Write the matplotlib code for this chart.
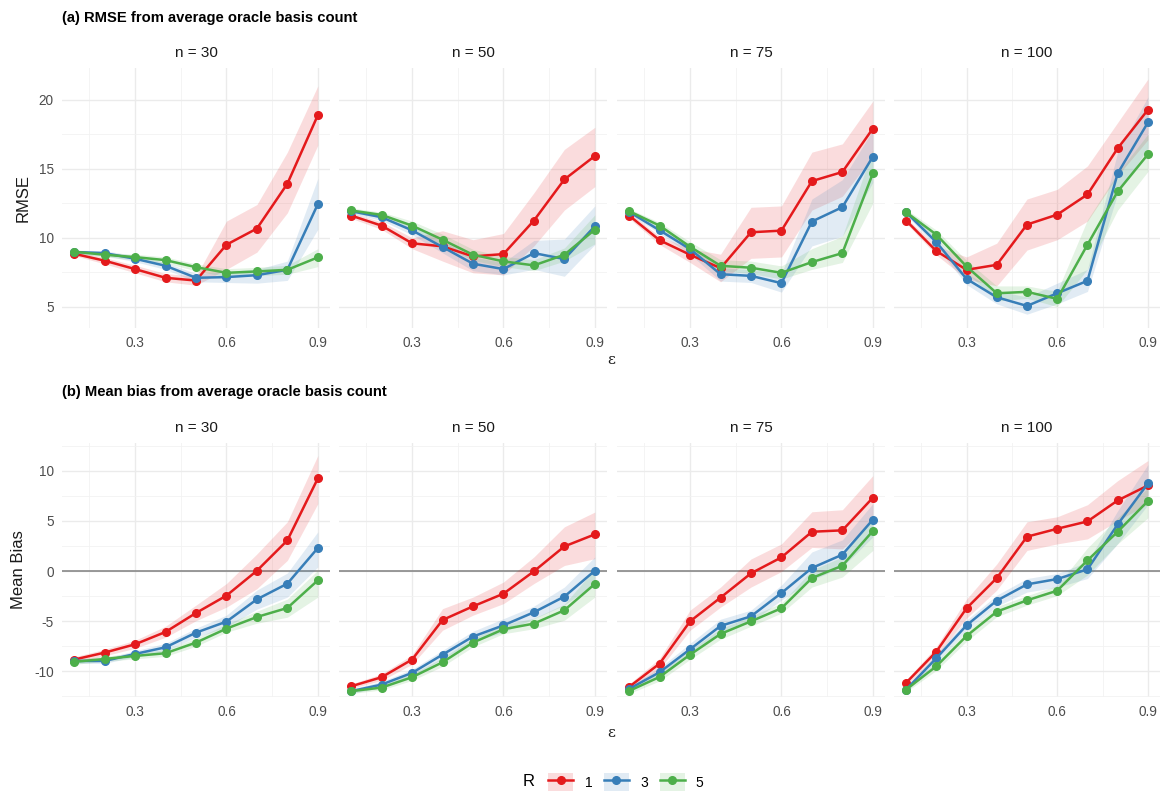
import numpy as np
import matplotlib
matplotlib.use('Agg')
import matplotlib.pyplot as plt
from matplotlib.lines import Line2D
from matplotlib.patches import Patch
from matplotlib.offsetbox import HPacker

plt.rcParams['font.family'] = ['Liberation Sans', 'DejaVu Sans']
plt.rcParams['axes.unicode_minus'] = False

eps = [0.1, 0.2, 0.3, 0.4, 0.5, 0.6, 0.7, 0.8, 0.9]
n_values = [30, 50, 75, 100]
r_values = [1, 3, 5]
colors = {1: '#E41A1C', 3: '#377EB8', 5: '#4DAF4A'}

# ---- RMSE (mean, lower, upper) ----
rmse_30_r1 = [8.83, 8.33, 7.72, 7.09, 6.89, 9.49, 10.66, 13.91, 18.88]
rmse_30_r1_lo = [8.7, 8.1, 7.45, 6.8, 6.55, 7.7, 8.95, 11.8, 16.7]
rmse_30_r1_hi = [9.0, 8.55, 8.0, 7.4, 7.2, 11.2, 12.4, 16.2, 21.0]
rmse_30_r3 = [8.96, 8.88, 8.47, 7.96, 7.09, 7.14, 7.28, 7.67, 12.43]
rmse_30_r3_lo = [8.8, 8.7, 8.25, 7.7, 6.8, 6.75, 6.7, 6.9, 10.6]
rmse_30_r3_hi = [9.1, 9.05, 8.7, 8.2, 7.4, 7.55, 7.7, 8.3, 14.3]
rmse_30_r5 = [8.98, 8.76, 8.59, 8.37, 7.86, 7.45, 7.55, 7.67, 8.57]
rmse_30_r5_lo = [8.85, 8.6, 8.4, 8.15, 7.6, 7.15, 7.25, 7.35, 7.9]
rmse_30_r5_hi = [9.1, 8.9, 8.8, 8.6, 8.1, 7.75, 7.85, 8.0, 9.2]

rmse_50_r1 = [11.6, 10.87, 9.59, 9.37, 8.64, 8.81, 11.24, 14.22, 15.92]
rmse_50_r1_lo = [11.4, 10.6, 9.2, 8.3, 7.45, 7.3, 9.4, 12.0, 13.7]
rmse_50_r1_hi = [11.8, 11.15, 10.0, 10.5, 9.85, 10.3, 13.25, 16.4, 18.0]
rmse_50_r3 = [11.92, 11.48, 10.53, 9.32, 8.11, 7.72, 8.88, 8.45, 10.83]
rmse_50_r3_lo = [11.75, 11.25, 10.2, 8.9, 7.6, 7.3, 7.7, 7.2, 9.5]
rmse_50_r3_hi = [12.1, 11.7, 10.85, 9.75, 8.6, 8.2, 9.8, 9.9, 12.3]
rmse_50_r5 = [11.97, 11.65, 10.87, 9.85, 8.76, 8.28, 7.99, 8.76, 10.58]
rmse_50_r5_lo = [11.8, 11.45, 10.55, 9.45, 8.35, 7.9, 7.6, 8.3, 9.55]
rmse_50_r5_hi = [12.15, 11.85, 11.2, 10.25, 9.15, 8.65, 8.4, 9.25, 11.65]

rmse_75_r1 = [11.6, 9.81, 8.76, 7.79, 10.39, 10.51, 14.1, 14.76, 17.91]
rmse_75_r1_lo = [11.4, 9.5, 8.2, 6.8, 8.5, 8.6, 12.0, 13.0, 15.9]
rmse_75_r1_hi = [11.8, 10.1, 9.2, 8.8, 12.2, 12.3, 16.2, 16.8, 19.9]
rmse_75_r3 = [11.87, 10.53, 9.17, 7.35, 7.23, 6.7, 11.17, 12.21, 15.87]
rmse_75_r3_lo = [11.7, 10.3, 8.8, 6.85, 6.75, 6.05, 9.4, 10.1, 14.0]
rmse_75_r3_hi = [12.05, 10.75, 9.5, 7.8, 7.7, 7.4, 12.8, 14.2, 17.8]
rmse_75_r5 = [11.92, 10.87, 9.34, 7.96, 7.82, 7.45, 8.23, 8.88, 14.66]
rmse_75_r5_lo = [11.75, 10.6, 9.0, 7.6, 7.4, 7.0, 7.7, 8.2, 12.5]
rmse_75_r5_hi = [12.1, 11.1, 9.7, 8.4, 8.3, 7.95, 9.2, 10.1, 16.4]

rmse_100_r1 = [11.24, 9.03, 7.67, 8.03, 10.95, 11.67, 13.13, 16.48, 19.27]
rmse_100_r1_lo = [11.05, 8.75, 7.0, 6.5, 9.1, 9.85, 11.2, 14.5, 17.1]
rmse_100_r1_hi = [11.45, 9.4, 8.6, 9.6, 12.8, 13.5, 15.2, 18.35, 21.5]
rmse_100_r3 = [11.84, 9.68, 7.01, 5.68, 5.05, 5.97, 6.87, 14.66, 18.35]
rmse_100_r3_lo = [11.65, 9.35, 6.6, 5.2, 4.45, 5.2, 6.1, 13.2, 16.5]
rmse_100_r3_hi = [12.05, 10.0, 7.4, 6.15, 5.7, 6.7, 7.7, 16.2, 20.2]
rmse_100_r5 = [11.84, 10.22, 7.91, 5.97, 6.07, 5.56, 9.49, 13.35, 16.04]
rmse_100_r5_lo = [11.65, 9.9, 7.5, 5.4, 5.6, 5.0, 7.7, 12.0, 14.8]
rmse_100_r5_hi = [12.05, 10.55, 8.35, 6.5, 6.5, 6.1, 11.3, 14.7, 17.5]

# ---- Mean bias (mean, lower, upper) ----
bias_30_r1 = [-8.82, -8.13, -7.30, -6.07, -4.18, -2.45, 0.03, 3.05, 9.22]
bias_30_r1_lo = [-9.1, -8.45, -7.7, -6.6, -4.95, -3.6, -1.76, 1.06, 6.7]
bias_30_r1_hi = [-8.55, -7.8, -6.9, -5.5, -3.4, -1.25, 1.7, 4.9, 11.5]
bias_30_r3 = [-8.96, -8.96, -8.26, -7.6, -6.14, -5.04, -2.82, -1.26, 2.29]
bias_30_r3_lo = [-9.2, -9.2, -8.55, -7.95, -6.6, -5.6, -3.8, -2.6, 0.4]
bias_30_r3_hi = [-8.7, -8.7, -7.95, -7.2, -5.7, -4.4, -1.9, -0.2, 3.9]
bias_30_r5 = [-9.05, -8.76, -8.46, -8.19, -7.13, -5.74, -4.58, -3.68, -0.93]
bias_30_r5_lo = [-9.3, -9.0, -8.75, -8.5, -7.5, -6.1, -5.2, -4.6, -2.6]
bias_30_r5_hi = [-8.8, -8.5, -8.15, -7.85, -6.7, -5.3, -4.0, -2.8, 0.07]

bias_50_r1 = [-11.48, -10.58, -8.82, -4.88, -3.52, -2.26, -0.03, 2.45, 3.65]
bias_50_r1_lo = [-11.7, -10.9, -9.3, -5.9, -4.4, -3.25, -1.25, 0.55, 1.23]
bias_50_r1_hi = [-11.25, -10.25, -8.35, -3.75, -2.6, -1.1, 1.4, 4.4, 5.87]
bias_50_r3 = [-11.97, -11.31, -10.15, -8.33, -6.53, -5.41, -4.11, -2.55, 0.03]
bias_50_r3_lo = [-12.2, -11.6, -10.5, -8.75, -7.05, -6.1, -4.75, -3.4, -1.25]
bias_50_r3_hi = [-11.75, -11.0, -9.8, -7.9, -6.0, -4.75, -3.5, -1.6, 1.4]
bias_50_r5 = [-11.97, -11.61, -10.58, -9.09, -7.13, -5.8, -5.24, -3.91, -1.29]
bias_50_r5_lo = [-12.2, -11.85, -10.9, -9.5, -7.55, -6.25, -5.75, -4.9, -2.6]
bias_50_r5_hi = [-11.75, -11.35, -10.25, -8.65, -6.7, -5.35, -4.7, -3.3, 0.2]

bias_75_r1 = [-11.54, -9.22, -5.01, -2.65, -0.23, 1.36, 3.91, 4.05, 7.30]
bias_75_r1_lo = [-11.8, -9.75, -5.9, -3.6, -1.6, -0.05, 2.35, 2.2, 5.0]
bias_75_r1_hi = [-11.25, -8.7, -3.9, -1.6, 1.2, 2.7, 5.9, 6.1, 9.5]
bias_75_r3 = [-11.74, -10.08, -7.79, -5.47, -4.51, -2.19, 0.3, 1.63, 5.11]
bias_75_r3_lo = [-12.0, -10.5, -8.4, -6.1, -5.1, -2.9, -0.9, 0.4, 3.4]
bias_75_r3_hi = [-11.5, -9.65, -7.2, -4.8, -3.9, -1.4, 1.9, 3.1, 6.7]
bias_75_r5 = [-11.94, -10.55, -8.33, -6.27, -5.01, -3.71, -0.7, 0.53, 3.98]
bias_75_r5_lo = [-12.2, -10.95, -8.8, -6.8, -5.5, -4.2, -1.6, -0.6, 2.05]
bias_75_r5_hi = [-11.7, -10.15, -7.85, -5.75, -4.5, -3.2, 0.1, 1.4, 5.5]

bias_100_r1 = [-11.14, -8.03, -3.71, -0.7, 3.42, 4.21, 4.94, 7.03, 8.52]
bias_100_r1_lo = [-11.45, -8.5, -4.7, -1.9, 2.05, 2.7, 3.2, 5.0, 6.7]
bias_100_r1_hi = [-10.85, -7.55, -2.8, 0.7, 4.9, 5.4, 6.6, 9.0, 11.0]
bias_100_r3 = [-11.81, -8.69, -5.41, -2.95, -1.33, -0.8, 0.17, 4.64, 8.72]
bias_100_r3_lo = [-12.05, -9.1, -5.9, -3.5, -2.1, -1.6, -0.75, 2.72, 6.6]
bias_100_r3_hi = [-11.55, -8.3, -4.9, -2.4, -0.75, -0.25, 0.9, 6.0, 10.6]
bias_100_r5 = [-11.81, -9.49, -6.47, -4.05, -2.92, -1.96, 1.06, 3.91, 6.97]
bias_100_r5_lo = [-12.05, -9.9, -7.0, -4.55, -3.4, -2.45, -0.4, 2.7, 5.3]
bias_100_r5_hi = [-11.55, -9.05, -5.95, -3.55, -2.45, -1.45, 2.3, 5.3, 8.3]

g = globals()

fig = plt.figure(figsize=(11.62, 7.94), dpi=100)
W, H = 1162, 794

col_px = [(62, 330), (339, 607), (617, 885), (894, 1160)]
rows = [
    dict(key='rmse', top=68, bot=328, ylim=(3.45, 22.3), major=[5, 10, 15, 20],
         minor=[7.5, 12.5, 17.5], ylabel='RMSE',
         title='(a) RMSE from average oracle basis count', title_y=18, eps_y=360),
    dict(key='bias', top=443, bot=697, ylim=(-12.55, 12.75), major=[-10, -5, 0, 5, 10],
         minor=[-12.5, -7.5, -2.5, 2.5, 7.5, 12.5], ylabel='Mean Bias',
         title='(b) Mean bias from average oracle basis count', title_y=392, eps_y=733),
]

grid_c = '#EBEBEB'
txt_c = '#4D4D4D'

for row in rows:
    for j, n in enumerate(n_values):
        x0, x1 = col_px[j]
        ax = fig.add_axes([x0 / W, 1 - row['bot'] / H, (x1 - x0) / W, (row['bot'] - row['top']) / H])
        for s in ax.spines.values():
            s.set_visible(False)
        ax.set_xlim(0.06, 0.94)
        ax.set_ylim(*row['ylim'])
        ax.set_xticks([0.3, 0.6, 0.9])
        ax.set_xticks([0.15, 0.45, 0.75], minor=True)
        ax.set_yticks(row['major'])
        ax.set_yticks(row['minor'], minor=True)
        ax.grid(True, which='major', color=grid_c, lw=1.0)
        ax.grid(True, which='minor', color='#F2F2F2', lw=0.6)
        ax.set_axisbelow(True)
        ax.tick_params(which='both', length=0, labelsize=9.8, labelcolor=txt_c)
        ax.tick_params(axis='x', pad=6)
        ax.tick_params(axis='y', pad=6)
        if j > 0:
            ax.set_yticklabels([])
        else:
            ax.set_ylabel(row['ylabel'], fontsize=12, color='#1A1A1A', labelpad=6)
        if row['key'] == 'bias':
            ax.axhline(0, color='#7F7F7F', lw=1.1, zorder=1.5)
        ax.set_title(f'n = {n}', fontsize=11, color='#1A1A1A', pad=8)

        for r in r_values:
            name = f"{row['key']}_{n}_r{r}"
            ax.fill_between(eps, g[name + '_lo'], g[name + '_hi'], color=colors[r],
                            alpha=0.15, lw=0, zorder=2)
        for r in r_values:
            name = f"{row['key']}_{n}_r{r}"
            ax.plot(eps, g[name], color=colors[r], lw=1.8, marker='o', ms=5.5, zorder=3)

    fig.text(62 / W, 1 - row['title_y'] / H, row['title'], fontsize=10.6, fontweight='bold',
             va='center', ha='left', color='black')
    fig.text(611 / W, 1 - row['eps_y'] / H, 'ε', fontsize=11, va='center', ha='center',
             color='#1A1A1A', family=['DejaVu Serif'])

handles = [(Patch(facecolor=colors[r], alpha=0.15, lw=0),
            Line2D([], [], color=colors[r], lw=1.8, marker='o', ms=5.5)) for r in r_values]
leg = fig.legend(handles, [str(r) for r in r_values], title='R', loc='center',
                 bbox_to_anchor=(613 / W, 1 - 782 / H), ncol=3, frameon=False,
                 fontsize=10, title_fontsize=12, handlelength=1.8, handleheight=1.6,
                 columnspacing=0.85, handletextpad=0.8)
# put the title to the left of the keys, as in ggplot
box = leg._legend_box
box._children = [HPacker(children=[box._children[0], box._children[1]], align='center', pad=0, sep=10)]

fig.savefig('out.png', dpi=100)
